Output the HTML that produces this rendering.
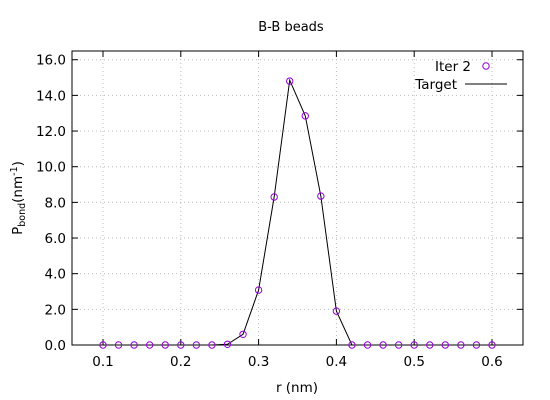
<!DOCTYPE html>
<html><head><meta charset="utf-8"><style>
body{margin:0;background:#fff}
svg{display:block;font-family:"DejaVu Sans","Liberation Sans",sans-serif}
</style></head><body>
<svg id="chart" width="550" height="400">
<text x="291" y="31" font-size="13" text-anchor="middle">B-B beads</text>
<g id="grid"></g>
<g id="ticks"></g>
<rect x="72" y="51" width="451" height="294" fill="none" stroke="#000"/>
<g id="series"></g>
<text x="297" y="392" font-size="13.5" text-anchor="middle">r (nm)</text>
<text transform="translate(22,198) rotate(-90)" font-size="13.5" text-anchor="middle">P<tspan font-size="9.5" dy="3">bond</tspan><tspan dy="-3">(nm</tspan><tspan font-size="9.5" dy="-5">-1</tspan><tspan dy="5">)</tspan></text>
<g>
<text x="471" y="71" font-size="13.5" text-anchor="end">Iter 2</text>
<circle cx="486" cy="66" r="3.2" fill="none" stroke="#9400d3"/>
<text x="457" y="89" font-size="13.5" text-anchor="end">Target</text>
<line x1="465" y1="84" x2="507" y2="84" stroke="#000"/>
</g>
</svg>
<script>
const rValues=[0.10,0.12,0.14,0.16,0.18,0.20,0.22,0.24,0.26,0.28,0.30,0.32,0.34,0.36,0.38,0.40,0.42,0.44,0.46,0.48,0.50,0.52,0.54,0.56,0.58,0.60];
const iterValues=[0,0,0,0,0,0,0,0,0.04,0.6,3.08,8.3,14.8,12.85,8.35,1.9,0,0,0,0,0,0,0,0,0,0];
const targetValues=[0,0,0,0,0,0,0,0,0.04,0.6,3.08,8.3,14.85,12.85,8.35,1.9,0,0,0,0,0,0,0,0,0,0];
const xTicks=[0.1,0.2,0.3,0.4,0.5,0.6];
const yTicks=[0,2,4,6,8,10,12,14,16];
const NS="http://www.w3.org/2000/svg";
const X=v=>103+(v-0.1)*778;
const Y=v=>345-v*17.83;
function mk(tag,attrs,parent){const e=document.createElementNS(NS,tag);for(const k in attrs)e.setAttribute(k,attrs[k]);document.getElementById(parent).appendChild(e);return e;}
xTicks.forEach(t=>{
  const g=mk('line',{x1:X(t),x2:X(t),y1:51,y2:345,stroke:'#bbb','stroke-dasharray':'1,3'},'grid');
  
  
  const a=mk('line',{x1:X(t),x2:X(t),y1:345,y2:339,stroke:'#000'},'ticks');
  
  
  const b=mk('line',{x1:X(t),x2:X(t),y1:51,y2:57,stroke:'#000'},'ticks');
  
  
  const l=mk('text',{x:X(t),y:366,'font-size':13.5,'text-anchor':'middle'},'ticks');
  l.textContent=t.toFixed(1);
  
  
});
yTicks.forEach(t=>{
  const g=mk('line',{x1:72,x2:523,y1:Y(t),y2:Y(t),stroke:'#bbb','stroke-dasharray':'1,3'},'grid');
  
  
  const a=mk('line',{x1:72,x2:78,y1:Y(t),y2:Y(t),stroke:'#000'},'ticks');
  
  
  const b=mk('line',{x1:517,x2:523,y1:Y(t),y2:Y(t),stroke:'#000'},'ticks');
  
  
  const l=mk('text',{x:66,y:Y(t)+5,'font-size':13.5,'text-anchor':'end'},'ticks');
  l.textContent=t.toFixed(1);
  
  
});
const line=mk('polyline',{points:rValues.map((r,i)=>X(r)+','+Y(targetValues[i])).join(' '),fill:'none',stroke:'#000','stroke-width':1},'series');


rValues.forEach((r,i)=>{
  const c=mk('circle',{cx:X(r),cy:Y(iterValues[i]),r:3.2,fill:'none',stroke:'#9400d3'},'series');
  
  
});
</script>
</body></html>
